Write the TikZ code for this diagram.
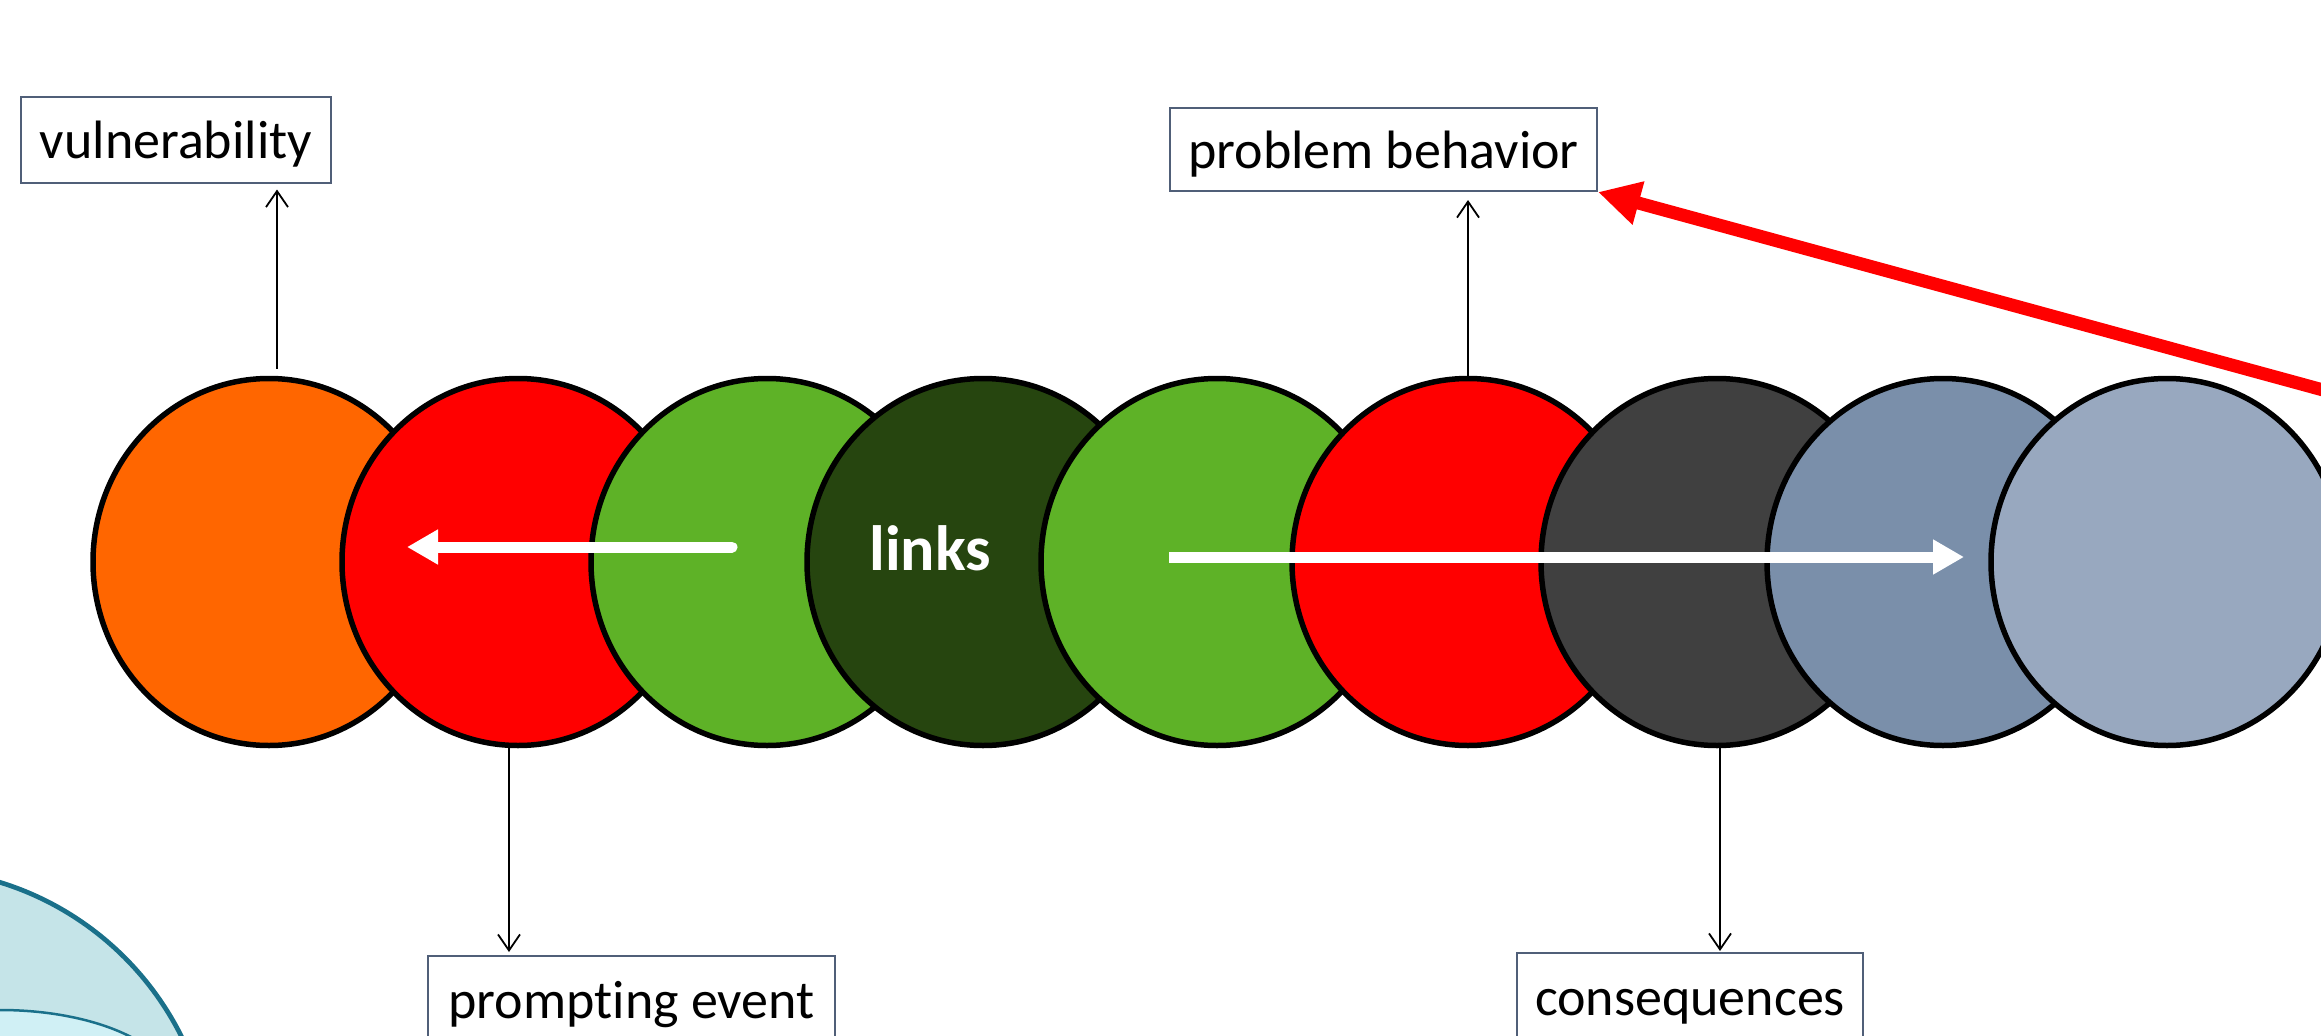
\documentclass[tikz,border=0pt]{standalone}
\usepackage{fontspec}
\setmainfont{Carlito}[Ligatures=NoCommon]
\usetikzlibrary{shapes.geometric,arrows.meta,calc}

\definecolor{cOrange}{RGB}{255,102,0}
\definecolor{cRed}{RGB}{255,0,0}
\definecolor{cGreen}{RGB}{94,178,39}
\definecolor{cDarkGreen}{RGB}{38,69,15}
\definecolor{cGray}{RGB}{64,64,64}
\definecolor{cSlate}{RGB}{122,143,170}
\definecolor{cLightSlate}{RGB}{152,168,191}
\definecolor{boxline}{RGB}{80,95,120}
\definecolor{tealline}{RGB}{26,112,138}
\definecolor{tealfill}{RGB}{197,228,232}
\definecolor{tealinner}{RGB}{208,240,245}

\begin{document}
\begin{tikzpicture}[x=1pt,y=-1pt,
  disc/.style={ellipse, draw=black, line width=5.5pt, inner sep=0pt,
    minimum width=352pt, minimum height=367pt},
  labelbox/.style={draw=boxline, line width=2pt, fill=white, inner sep=0pt,
    text height=44pt, text depth=6pt, font=\fontsize{54}{60}\selectfont},
  thinarrow/.style={line width=1.8pt, -{Straight Barb[length=16pt,width=22pt,line width=1.8pt]}},
  whitearrow/.style={white, line width=11pt, -{Triangle[length=31pt,width=33pt]}},
  redarrow/.style={cRed, line width=13pt, -{Triangle[length=42pt,width=42pt]}}
]
\useasboundingbox (0,0) rectangle (2321,1036);
\clip (0,0) rectangle (2321,1036);

% disc in the lower left corner
\draw[draw=tealline, line width=4.7pt, fill=tealfill] (-89,1171) circle[radius=302pt];
\draw[draw=tealline, line width=2.5pt, fill=tealinner] (0,1090) ellipse[x radius=175pt, y radius=80pt];

% chain of links, each one lying over the previous one
\node[disc, fill=cOrange]     (c1) at (269,562) {};
\node[disc, fill=cRed]        (c2) at (518,562) {};
\node[disc, fill=cGreen]      (c3) at (767,562) {};
\node[disc, fill=cDarkGreen]  (c4) at (983,562) {};
\node[disc, fill=cGreen]      (c5) at (1217,562) {};
\node[disc, fill=cRed]        (c6) at (1468,562) {};
\node[disc, fill=cGray]       (c7) at (1717,562) {};
\node[disc, fill=cSlate]      (c8) at (1943,562) {};
\node[disc, fill=cLightSlate] (c9) at (2167,562) {};

% labels
\node[labelbox, minimum width=310pt, minimum height=86pt] (vul) at (176,139.5) {vulnerability};
\node[labelbox, minimum width=427pt, minimum height=83pt] (pb) at (1383.5,149.5) {problem behavior};
\node[labelbox, minimum width=407pt, minimum height=86pt] (pe) at (631.5,999) {prompting event};
\node[labelbox, minimum width=346pt, minimum height=86pt] (cq) at (1690,996) {consequences};

% links to the labels
\draw[thinarrow, shorten >=6pt] ([xshift=8pt,yshift=7pt]c1.north) -- ([xshift=8pt]c1.north |- vul.south);
\draw[thinarrow, shorten >=8pt] (c6.north) -- (c6.north |- pb.south);
\draw[thinarrow, shorten >=3pt] ([xshift=-9pt]c2.south) -- ([xshift=-9pt]c2.south |- pe.north);
\draw[thinarrow, shorten >=1pt] ([xshift=3pt]c7.south) -- ([xshift=3pt]c7.south |- cq.north);

% direction arrows across the chain
\coordinate (lstart) at (732,547);
\coordinate (lend) at (407,547);
\coordinate (rstart) at (1169,557);
\coordinate (rend) at (1964,557);
\draw[whitearrow, line cap=round] (lstart) -- (lend);
\draw[whitearrow] (rstart) -- (rend);

\node[font=\fontsize{64}{70}\selectfont\bfseries, text=white] (lk) at (930,548) {links};

% feedback arrow into the problem behavior
\coordinate (rfar) at (2400,411);
\draw[redarrow] (rfar) -- (pb.south east);
\end{tikzpicture}
\end{document}
